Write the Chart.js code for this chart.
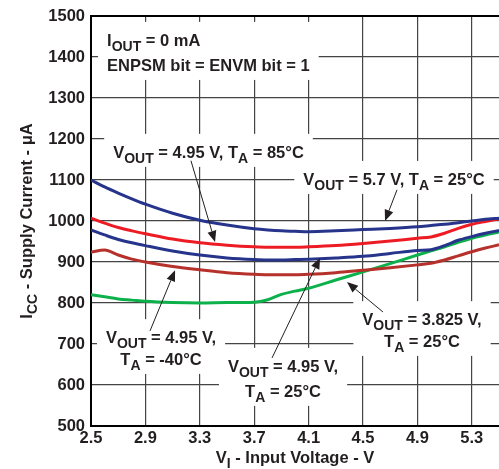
<!DOCTYPE html>
<html>
<head>
<meta charset="utf-8">
<script src="https://cdn.jsdelivr.net/npm/chart.js@4/dist/chart.umd.min.js"></script>
<style>
  html, body { margin: 0; padding: 0; background: #fff; }
  #wrap { width: 499px; height: 469px; }
</style>
</head>
<body>
<div id="wrap"><canvas id="iccChart" width="499" height="469"></canvas></div>
<script>
// Supply current vs input voltage, four output / temperature conditions

const vin = [2.5, 2.6, 2.7, 2.8, 2.9, 3.1, 3.3, 3.5, 3.7, 3.8, 3.9, 4.0, 4.1, 4.3, 4.5, 4.7, 4.9, 5.0, 5.1, 5.2, 5.3, 5.4, 5.5];

const icc57v25c = [1100, 1083, 1068, 1054, 1041, 1019, 1002, 990, 981, 978, 976, 975, 974, 976, 979, 982, 986, 989, 992, 996, 1000, 1004, 1007];
const icc495v85c = [1007, 995, 984, 976, 969, 956, 947, 941, 937, 936, 936, 936, 937, 940, 945, 951, 958, 961, 970, 982, 992, 999, 1005];
const icc495v25c = [978, 966, 955, 947, 940, 927, 917, 910, 906, 905, 905, 906, 907, 910, 914, 921, 928, 930, 940, 953, 962, 970, 977];
const icc495vm40c = [924, 929, 917, 907, 900, 889, 881, 874, 870, 869, 869, 869, 870, 874, 880, 886, 893, 897, 905, 915, 925, 934, 942];
const icc3825v25c = [820, 815, 810, 807, 804, 801, 800, 801, 802, 808, 821, 829, 836, 856, 876, 896, 917, 927, 937, 948, 958, 966, 973];

const xTicks = [2.5, 2.9, 3.3, 3.7, 4.1, 4.5, 4.9, 5.3];
const yMin = 500, yMax = 1500, yStep = 100;
const xMin = 2.5, xMax = 5.5;

const TEXT = '#231f20';
const FONT = '"Liberation Sans", Arial, Helvetica, sans-serif';

function pts(ys) {
  return vin.map((v, i) => ({ x: v, y: ys[i] }));
}

// callouts: text lines placed at (x, baseline y) in data units, arrow from -> to
const callouts = [
  { lines: ['I_{OUT} = 0 mA', 'ENPSM bit = ENVM bit = 1'], align: 'left', x: 2.618, y: [1427, 1366] },
  { lines: ['V_{OUT} = 4.95 V, T_{A} = 85°C'], align: 'center', x: 3.364, y: [1154],
    arrow: [[3.235, 1147], [3.412, 949]] },
  { lines: ['V_{OUT} = 5.7 V, T_{A} = 25°C'], align: 'center', x: 4.728, y: [1088],
    arrow: [[4.75, 1076], [4.662, 1000]] },
  { lines: ['V_{OUT} = 4.95 V,', 'T_{A} = -40°C'], align: 'center', x: 3.015, y: [702, 649],
    arrow: [[2.934, 732], [3.118, 880]] },
  { lines: ['V_{OUT} = 4.95 V,', 'T_{A} = 25°C'], align: 'center', x: 3.912, y: [632, 571],
    arrow: [[3.831, 666], [4.184, 910]] },
  { lines: ['V_{OUT} = 3.825 V,', 'T_{A} = 25°C'], align: 'center', x: 4.934, y: [746, 693],
    arrow: [[4.647, 778], [4.382, 851]] }
];

function parseRich(str) {
  const parts = [];
  const re = /_\{([^}]*)\}/g;
  let last = 0, m;
  while ((m = re.exec(str)) !== null) {
    if (m.index > last) parts.push({ t: str.slice(last, m.index), sub: false });
    parts.push({ t: m[1], sub: true });
    last = re.lastIndex;
  }
  if (last < str.length) parts.push({ t: str.slice(last), sub: false });
  return parts;
}

const mainFont = 'bold 16.5px ' + FONT;
const subFont = 'bold 14px ' + FONT;

function richWidth(ctx, parts) {
  let w = 0;
  parts.forEach(p => {
    ctx.font = p.sub ? subFont : mainFont;
    w += ctx.measureText(p.t).width;
  });
  return w;
}

function drawRich(ctx, str, x, y, align) {
  const parts = parseRich(str);
  const w = richWidth(ctx, parts);
  let cx = align === 'center' ? x - w / 2 : x;
  ctx.textBaseline = 'alphabetic';
  ctx.textAlign = 'left';
  parts.forEach(p => {
    ctx.font = p.sub ? subFont : mainFont;
    ctx.fillText(p.t, cx, p.sub ? y + 5 : y);
    cx += ctx.measureText(p.t).width;
  });
  return w;
}

function drawArrow(ctx, x1, y1, x2, y2) {
  const ang = Math.atan2(y2 - y1, x2 - x1);
  const len = 11, half = 4.5;
  const bx = x2 - len * Math.cos(ang), by = y2 - len * Math.sin(ang);
  ctx.strokeStyle = TEXT;
  ctx.lineWidth = 1;
  ctx.beginPath();
  ctx.moveTo(x1, y1);
  ctx.lineTo(bx, by);
  ctx.stroke();
  ctx.fillStyle = TEXT;
  ctx.beginPath();
  ctx.moveTo(x2, y2);
  ctx.lineTo(bx + half * Math.sin(ang), by - half * Math.cos(ang));
  ctx.lineTo(bx - half * Math.sin(ang), by + half * Math.cos(ang));
  ctx.closePath();
  ctx.fill();
}

const calloutPlugin = {
  id: 'callouts',
  beforeDatasetsDraw(chart) {
    // white boxes behind the labels knock out the grid
    const ctx = chart.ctx;
    const xs = chart.scales.x, ys = chart.scales.y;
    ctx.save();
    callouts.forEach(c => {
      let minX = Infinity, maxX = -Infinity;
      const px = xs.getPixelForValue(c.x);
      c.lines.forEach(l => {
        const w = richWidth(ctx, parseRich(l));
        const left = c.align === 'center' ? px - w / 2 : px;
        minX = Math.min(minX, left);
        maxX = Math.max(maxX, left + w);
      });
      const top = ys.getPixelForValue(c.y[0]) - 24;
      const bottom = ys.getPixelForValue(c.y[c.y.length - 1]) + 9;
      ctx.fillStyle = '#fff';
      ctx.fillRect(minX - 9, top, maxX - minX + 18, bottom - top);
    });
    ctx.restore();
  },
  afterDatasetsDraw(chart) {
    const ctx = chart.ctx;
    const xs = chart.scales.x, ys = chart.scales.y;
    ctx.save();
    callouts.forEach(c => {
      const px = xs.getPixelForValue(c.x);
      c.lines.forEach((l, i) => {
        ctx.fillStyle = TEXT;
        drawRich(ctx, l, px, ys.getPixelForValue(c.y[i]), c.align);
      });
      if (c.arrow) {
        const [a, b] = c.arrow;
        drawArrow(ctx, xs.getPixelForValue(a[0]), ys.getPixelForValue(a[1]),
          xs.getPixelForValue(b[0]), ys.getPixelForValue(b[1]));
      }
    });

    // axis titles with subscripts
    const area = chart.chartArea;
    ctx.fillStyle = TEXT;
    drawRich(ctx, 'V_{I} - Input Voltage - V', (area.left + area.right) / 2, 463, 'center');
    ctx.translate(32, (area.top + area.bottom) / 2);
    ctx.rotate(-Math.PI / 2);
    drawRich(ctx, 'I_{CC} - Supply Current - μA', 0, 0, 'center');
    ctx.restore();
  }
};

const series = [
  { label: 'VOUT = 5.7 V, TA = 25°C', data: icc57v25c, color: '#27348b' },
  { label: 'VOUT = 4.95 V, TA = 85°C', data: icc495v85c, color: '#ed1c24' },
  { label: 'VOUT = 4.95 V, TA = 25°C', data: icc495v25c, color: '#27348b' },
  { label: 'VOUT = 4.95 V, TA = -40°C', data: icc495vm40c, color: '#b7312c' },
  { label: 'VOUT = 3.825 V, TA = 25°C', data: icc3825v25c, color: '#0db14b' }
];

const ctx = document.getElementById('iccChart').getContext('2d');
new Chart(ctx, {
  type: 'line',
  data: {
    datasets: series.map(s => ({
      label: s.label,
      data: pts(s.data),
      borderColor: s.color,
      backgroundColor: s.color,
      borderWidth: 3,
      pointRadius: 0,
      cubicInterpolationMode: 'monotone',
      fill: false
    }))
  },
  options: {
    responsive: false,
    animation: false,
    devicePixelRatio: 1,
    layout: { padding: { top: 16, right: 0, left: 0, bottom: 0 } },
    plugins: {
      legend: { display: false },
      tooltip: { enabled: false }
    },
    scales: {
      x: {
        type: 'linear',
        min: xMin,
        max: xMax,
        afterBuildTicks: function(scale) {
          scale.ticks = xTicks.map(v => ({ value: v }));
        },
        afterFit: function(scale) {
          scale.height = 43;
        },
        border: { display: true, color: '#000', width: 2 },
        grid: {
          color: '#444',
          lineWidth: 1.2,
          drawTicks: false
        },
        ticks: {
          color: TEXT,
          padding: 3,
          maxRotation: 0,
          autoSkip: false,
          font: { family: FONT, size: 16.5, weight: 'bold' },
          callback: function(value) {
            return Number(value).toFixed(1);
          }
        }
      },
      y: {
        min: yMin,
        max: yMax,
        afterFit: function(scale) {
          scale.width = 91;
        },
        border: { display: true, color: '#000', width: 2 },
        grid: {
          color: ctx => ctx.tick && ctx.tick.value === yMax ? '#000' : '#444',
          lineWidth: ctx => ctx.tick && ctx.tick.value === yMax ? 2 : 1.2,
          drawTicks: false
        },
        ticks: {
          stepSize: yStep,
          color: TEXT,
          padding: 6,
          font: { family: FONT, size: 16.5, weight: 'bold' },
          callback: function(value) {
            return String(value);
          }
        }
      }
    }
  },
  plugins: [calloutPlugin]
});
</script>
</body>
</html>
